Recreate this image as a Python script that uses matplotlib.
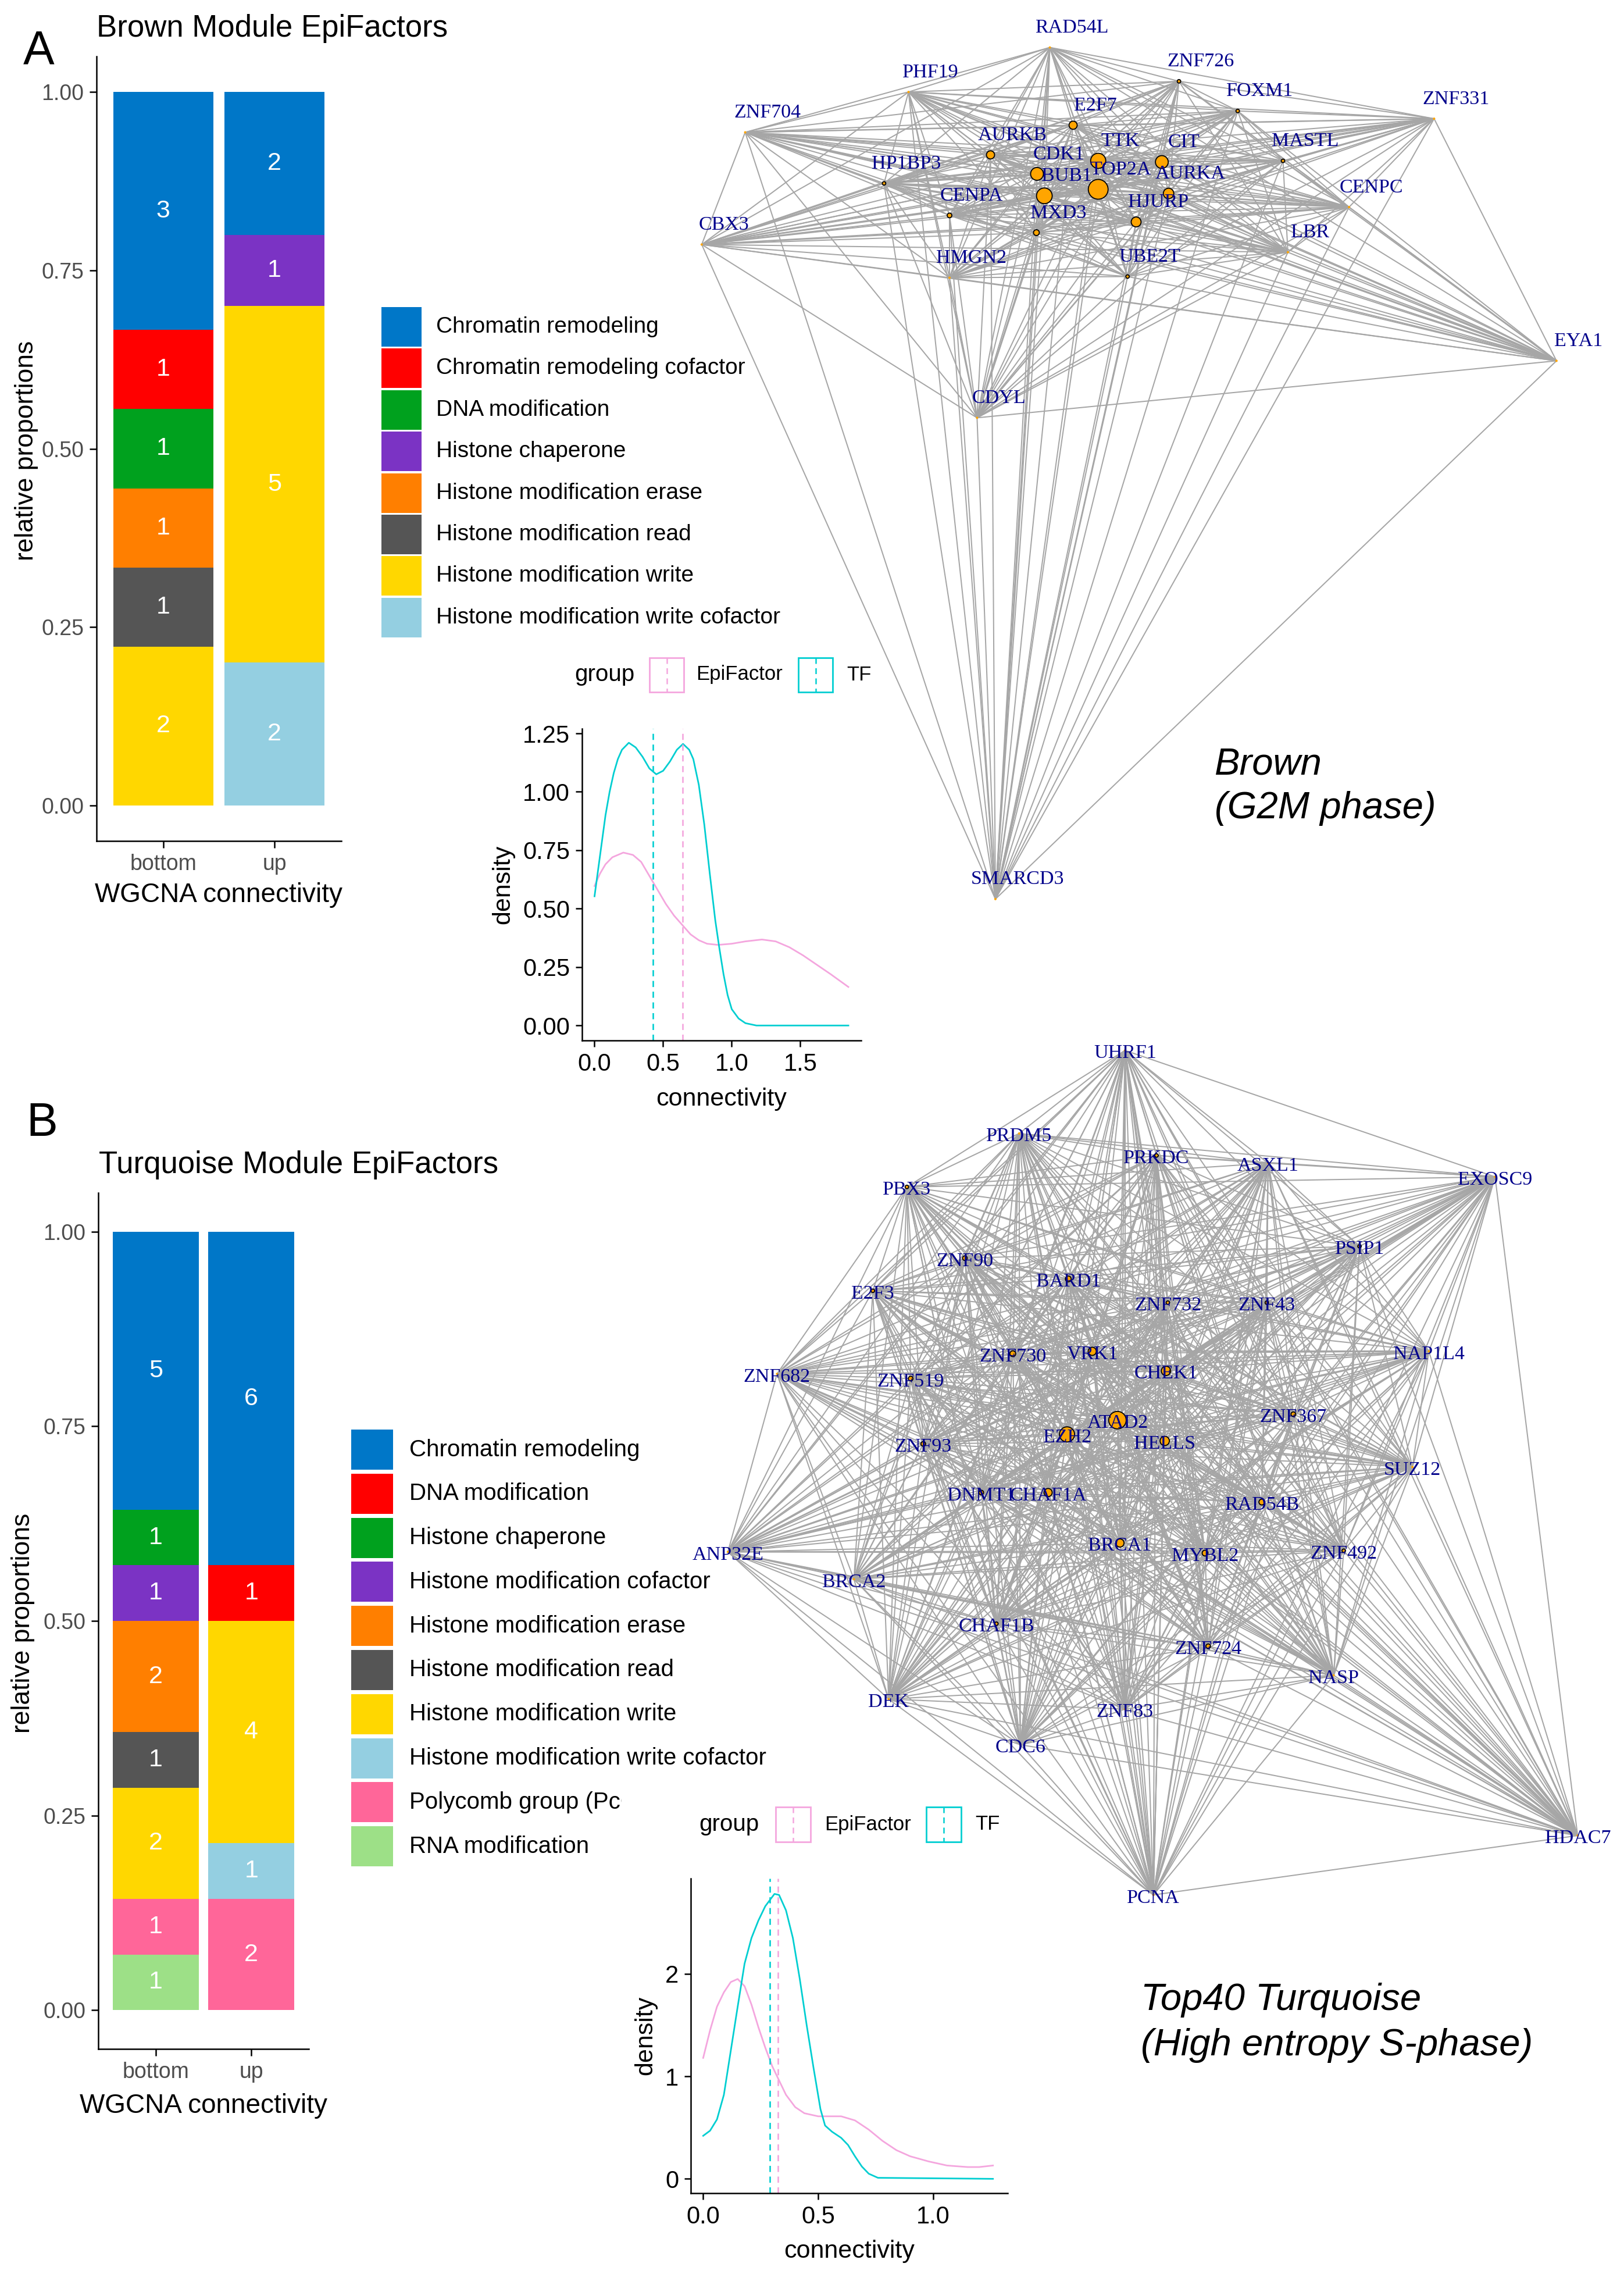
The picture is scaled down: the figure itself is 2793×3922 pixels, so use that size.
import numpy as np
import matplotlib
matplotlib.use("Agg")
import matplotlib.pyplot as plt
from matplotlib.patches import Rectangle
from matplotlib.collections import LineCollection
from matplotlib.transforms import Bbox, TransformedBbox
from itertools import combinations

plt.rcParams['font.family'] = ['Liberation Sans', 'DejaVu Sans']

W, H = 2793, 3922

# ---------------- data ----------------
cat_colors = ["#0077C8", "#FF0000", "#00A11E", "#7B33C4", "#FF7F00",
              "#555555", "#FFD700", "#94CFE1", "#FF6699", "#9DE087"]
groups = ["bottom", "up"]

brown_cats = ["Chromatin remodeling", "Chromatin remodeling cofactor", "DNA modification",
              "Histone chaperone", "Histone modification erase", "Histone modification read",
              "Histone modification write", "Histone modification write cofactor"]
brown_bottom = [3, 1, 1, 0, 1, 1, 2, 0]
brown_up = [2, 0, 0, 1, 0, 0, 5, 2]

turq_cats = ["Chromatin remodeling", "DNA modification", "Histone chaperone",
             "Histone modification cofactor", "Histone modification erase",
             "Histone modification read", "Histone modification write",
             "Histone modification write cofactor", "Polycomb group (PcG) protein",
             "RNA modification"]
turq_bottom = [5, 0, 1, 1, 2, 1, 2, 0, 1, 1]
turq_up = [6, 1, 0, 0, 0, 0, 4, 1, 2, 0]

# density curves
brown_tf_x = [0.00, 0.02, 0.05, 0.08, 0.11, 0.14, 0.17, 0.20, 0.25, 0.30, 0.35, 0.40, 0.45,
              0.50, 0.55, 0.60, 0.645, 0.69, 0.72, 0.76, 0.80, 0.84, 0.88, 0.91, 0.94, 0.97,
              1.00, 1.05, 1.10, 1.18, 1.85]
brown_tf_y = [0.553, 0.64, 0.77, 0.90, 1.00, 1.08, 1.14, 1.18, 1.21, 1.19, 1.15, 1.10, 1.075,
              1.09, 1.13, 1.18, 1.205, 1.18, 1.14, 1.03, 0.86, 0.65, 0.45, 0.33, 0.22, 0.13,
              0.07, 0.03, 0.01, 0.00, 0.00]
brown_epi_x = [0.00, 0.04, 0.08, 0.13, 0.21, 0.28, 0.34, 0.40, 0.46, 0.52, 0.58, 0.64, 0.70,
               0.76, 0.82, 0.90, 1.00, 1.10, 1.22, 1.32, 1.42, 1.52, 1.62, 1.72, 1.85]
brown_epi_y = [0.597, 0.65, 0.69, 0.72, 0.74, 0.73, 0.70, 0.64, 0.58, 0.52, 0.47, 0.43, 0.39,
               0.365, 0.35, 0.345, 0.35, 0.36, 0.368, 0.36, 0.335, 0.30, 0.26, 0.22, 0.165]
brown_mean_tf, brown_mean_epi = 0.426, 0.643

turq_tf_x = [0.00, 0.03, 0.06, 0.09, 0.12, 0.15, 0.18, 0.21, 0.24, 0.27, 0.31, 0.33, 0.36,
             0.39, 0.42, 0.45, 0.48, 0.51, 0.53, 0.56, 0.60, 0.63, 0.66, 0.69, 0.72, 0.76, 1.26]
turq_tf_y = [0.42, 0.47, 0.58, 0.82, 1.25, 1.68, 2.10, 2.35, 2.52, 2.66, 2.78, 2.77, 2.62,
             2.35, 1.95, 1.50, 1.08, 0.68, 0.52, 0.46, 0.40, 0.33, 0.22, 0.12, 0.05, 0.01, 0.00]
turq_epi_x = [0.00, 0.03, 0.06, 0.09, 0.12, 0.15, 0.18, 0.21, 0.24, 0.27, 0.30, 0.33, 0.36,
              0.40, 0.44, 0.50, 0.60, 0.66, 0.72, 0.78, 0.84, 0.90, 0.98, 1.06, 1.15, 1.20, 1.26]
turq_epi_y = [1.18, 1.45, 1.68, 1.82, 1.92, 1.95, 1.88, 1.70, 1.48, 1.28, 1.10, 0.96, 0.82,
              0.70, 0.64, 0.61, 0.61, 0.57, 0.48, 0.37, 0.28, 0.22, 0.17, 0.13, 0.115, 0.115, 0.13]
turq_mean_tf, turq_mean_epi = 0.290, 0.326

# network layouts (layout units) and vertex radius (px)
brown_genes = ["RAD54L", "ZNF726", "FOXM1", "ZNF331", "PHF19", "ZNF704", "E2F7", "AURKB",
               "HP1BP3", "CDK1", "TTK", "CIT", "MASTL", "BUB1", "TOP2A", "AURKA", "CENPA",
               "HJURP", "MXD3", "CENPC", "LBR", "CBX3", "HMGN2", "UBE2T", "CDYL", "EYA1",
               "SMARCD3"]
brown_lx = [623, 834, 930, 1251, 392, 125, 661, 526, 352, 602, 702, 806, 1004, 614, 702, 817,
            459, 764, 601, 1112, 1012, 54, 459, 750, 504, 1451, 534]
brown_ly = [80, 137, 187, 200, 155, 223, 211, 261, 309, 293, 271, 273, 271, 330, 319, 326,
            363, 374, 392, 349, 425, 412, 468, 466, 704, 608, 1515]
brown_rad = [2, 3, 3, 2, 2, 2, 7, 7, 3, 11, 13, 11, 3, 13.5, 17, 9, 4, 8.5, 5, 2, 2, 2, 2, 3,
             2, 2, 2]

turq_genes = ["UHRF1", "PRDM5", "PRKDC", "ASXL1", "EXOSC9", "PBX3", "PSIP1", "ZNF90", "BARD1",
              "E2F3", "ZNF732", "ZNF43", "NAP1L4", "ZNF730", "VRK1", "ZNF682", "ZNF519",
              "CHEK1", "ZNF367", "ATAD2", "EZH2", "HELLS", "ZNF93", "SUZ12", "DNMT1", "CHAF1A",
              "RAD54B", "ANP32E", "BRCA1", "MYBL2", "ZNF492", "BRCA2", "CHAF1B", "ZNF724",
              "NASP", "DEK", "ZNF83", "CDC6", "HDAC7", "PCNA"]
turq_lx = [770, 602, 820, 997, 1357, 424, 1142, 516, 680, 370, 838, 995, 1252, 592, 718, 218,
           430, 835, 1037, 758, 678, 833, 450, 1226, 542, 648, 987, 140, 762, 897, 1117, 340,
           566, 902, 1101, 395, 770, 604, 1488, 815]
turq_ly = [55, 195, 232, 245, 268, 285, 385, 405, 440, 460, 480, 480, 562, 566, 562, 600, 608,
           595, 668, 678, 702, 713, 718, 757, 800, 800, 816, 900, 885, 902, 898, 946, 1021,
           1059, 1108, 1148, 1165, 1225, 1378, 1478]
turq_rad = [2, 2, 3, 2, 2, 3, 3, 4, 5, 3, 3, 3, 2, 5, 7, 2, 4, 8, 4, 15, 13, 8, 4, 2, 4, 7, 5,
            2, 7, 5, 3, 2, 3, 4, 2, 2, 2, 2, 2, 2]

pink = "#F4A6DE"
cyan = "#00CED1"
gray_txt = "#4D4D4D"

fig = plt.figure(figsize=(W / 100, H / 100), dpi=100)


def px_axes(x0, y0, x1, y1, **kw):
    return fig.add_axes([x0 / W, 1 - y1 / H, (x1 - x0) / W, (y1 - y0) / H], **kw)


# ---------------- networks (drawn first, transparent) ----------------
def draw_net(box, genes, lx, ly, rad, ldx, ldy):
    ax = px_axes(*box)
    ax.set_xlim(0, 1568)
    ax.set_ylim(1568, 0)
    ax.axis("off")
    ax.patch.set_alpha(0)
    pts = np.column_stack([lx, ly]).astype(float)
    segs = [[pts[i], pts[j]] for i, j in combinations(range(len(genes)), 2)]
    ax.add_collection(LineCollection(segs, colors="#A6A6A6", linewidths=1.45, zorder=1))
    rad = np.array(rad, dtype=float)
    s = (2 * rad / 1.389) ** 2
    big = rad >= 3
    ax.scatter(pts[~big, 0], pts[~big, 1], s=s[~big], c="orange", linewidths=0, zorder=2)
    ax.scatter(pts[big, 0], pts[big, 1], s=s[big], c="orange", edgecolors="black",
               linewidths=1.3, zorder=3)
    for g, x, y in zip(genes, pts[:, 0], pts[:, 1]):
        ax.text(x + ldx, y + ldy, g, ha="center", va="center", fontsize=24.5,
                family="Liberation Serif", color="#00008B", zorder=4)
    return ax


draw_net((1150, 0, 2800, 1600), brown_genes, brown_lx, brown_ly, brown_rad, 36, -33)
draw_net((1100, 1750, 2800, 3350), turq_genes, turq_lx, turq_ly, turq_rad, 0, 5)


# ---------------- stacked bars ----------------
def stacked(box, cats, counts_bottom, counts_up):
    ax = px_axes(*box)
    for gi, counts in enumerate([counts_bottom, counts_up]):
        total = sum(counts)
        base = 0.0
        for ci in reversed(range(len(cats))):
            c = counts[ci]
            if c == 0:
                continue
            h = c / total
            ax.bar(gi + 1, h, bottom=base, width=0.9, color=cat_colors[ci], linewidth=0)
            ax.text(gi + 1, base + h / 2, str(c), color="white", ha="center", va="center",
                    fontsize=31)
            base += h
    ax.set_xlim(0.4, 2.6)
    ax.set_ylim(-0.05, 1.05)
    ax.set_xticks([1, 2])
    ax.set_xticklabels(groups)
    ax.set_yticks([0, 0.25, 0.5, 0.75, 1.0])
    ax.set_yticklabels(["0.00", "0.25", "0.50", "0.75", "1.00"])
    for sp in ["top", "right"]:
        ax.spines[sp].set_visible(False)
    for sp in ["left", "bottom"]:
        ax.spines[sp].set_linewidth(1.8)
    ax.tick_params(length=8.5, width=1.8, labelsize=27, labelcolor=gray_txt, pad=7)
    ax.patch.set_alpha(0)
    return ax


stacked((166, 97, 587, 1446), brown_cats, brown_bottom, brown_up)
stacked((169, 2051, 531, 3523), turq_cats, turq_bottom, turq_up)


# ---------------- density insets ----------------
def density(box, tfx, tfy, epx, epy, m_tf, m_epi, xlim, ylim, xt, xtl, yt, ytl):
    ax = px_axes(*box)
    ax.plot(epx, epy, color=pink, lw=2.0)
    ax.plot(tfx, tfy, color=cyan, lw=2.0)
    ax.axvline(m_tf, color=cyan, lw=1.9, ls=(0, (4, 3)))
    ax.axvline(m_epi, color=pink, lw=1.9, ls=(0, (4, 3)))
    ax.set_xlim(*xlim)
    ax.set_ylim(*ylim)
    ax.set_xticks(xt)
    ax.set_xticklabels(xtl)
    ax.set_yticks(yt)
    ax.set_yticklabels(ytl)
    for sp in ["top", "right"]:
        ax.spines[sp].set_visible(False)
    for sp in ["left", "bottom"]:
        ax.spines[sp].set_linewidth(1.8)
    ax.tick_params(length=8, width=1.8, labelsize=30, labelcolor="black", pad=7)
    ax.patch.set_alpha(0)
    return ax


density((1001, 1253, 1481, 1789), brown_tf_x, brown_tf_y, brown_epi_x, brown_epi_y,
        brown_mean_tf, brown_mean_epi, (-0.091, 1.943), (-0.064, 1.27),
        [0, 0.5, 1.0, 1.5], ["0.0", "0.5", "1.0", "1.5"],
        [0, 0.25, 0.5, 0.75, 1.0, 1.25], ["0.00", "0.25", "0.50", "0.75", "1.00", "1.25"])
density((1188, 3230, 1733, 3771), turq_tf_x, turq_tf_y, turq_epi_x, turq_epi_y,
        turq_mean_tf, turq_mean_epi, (-0.054, 1.324), (-0.14, 2.93),
        [0, 0.5, 1.0], ["0.0", "0.5", "1.0"], [0, 1, 2], ["0", "1", "2"])

# ---------------- overlay: labels, titles, legends ----------------
ov = fig.add_axes([0, 0, 1, 1])
ov.set_xlim(0, W)
ov.set_ylim(H, 0)
ov.axis("off")
ov.patch.set_alpha(0)

ov.text(40, 109, "A", fontsize=58, va="baseline", ha="left")
ov.text(45, 1953, "B", fontsize=58, va="baseline", ha="left")
ov.text(166, 49, "Brown Module EpiFactors", fontsize=38, va="center", ha="left")
ov.text(170, 2003, "Turquoise Module EpiFactors", fontsize=38, va="center", ha="left")

# bar chart axis titles
ov.text(46, 775, "relative proportions", fontsize=32, rotation=90, ha="center", va="center")
ov.text(376, 1539, "WGCNA connectivity", fontsize=33, ha="center", va="center")
ov.text(40, 2791, "relative proportions", fontsize=32, rotation=90, ha="center", va="center")
ov.text(350, 3621, "WGCNA connectivity", fontsize=33, ha="center", va="center")

# density axis titles
ov.text(865, 1521, "density", fontsize=31, rotation=90, ha="center", va="center")
ov.text(1241, 1890, "connectivity", fontsize=31, ha="center", va="center")
ov.text(1110, 3500, "density", fontsize=31, rotation=90, ha="center", va="center")
ov.text(1461, 3871, "connectivity", fontsize=31, ha="center", va="center")

# italic module notes
ov.text(2089, 1331, "Brown", fontsize=47, style="italic", va="baseline", ha="left")
ov.text(2089, 1407, "(G2M phase)", fontsize=47, style="italic", va="baseline", ha="left")
ov.text(1962, 3456, "Top40 Turquoise", fontsize=47, style="italic", va="baseline", ha="left")
ov.text(1962, 3534, "(High entropy S-phase)", fontsize=47, style="italic", va="baseline",
        ha="left")


def fill_legend(cats, kx0, kx1, top, step, kh, tx, fs, clip_rows=(), clip_x=None):
    for i, cat in enumerate(cats):
        y0 = top + i * step
        ov.add_patch(Rectangle((kx0, y0), kx1 - kx0, kh, facecolor=cat_colors[i],
                               edgecolor="none"))
        clipped = i in clip_rows
        t = ov.text(tx, y0 + kh / 2, cat, fontsize=fs, va="center", ha="left",
                    clip_on=clipped)
        if clipped:
            t.set_clip_box(TransformedBbox(Bbox([[0, 0], [clip_x, H]]), ov.transData))


fill_legend(brown_cats, 656, 725, 528, 71.4, 68, 750, 28)
# the density panel of B hides the end of the "Polycomb" entry
fill_legend(turq_cats, 604, 676, 2458, 75.8, 69, 704, 29, clip_rows=(8,), clip_x=1069)


def group_legend(gx, cy, k1, t1, k2, t2, ks):
    ov.text(gx, cy, "group", fontsize=29, va="center", ha="left")
    for kx, tx, col, lab in [(k1, t1, pink, "EpiFactor"), (k2, t2, cyan, "TF")]:
        ov.add_patch(Rectangle((kx, cy - ks / 2), ks, ks, facecolor="white", edgecolor=col,
                               lw=2.0))
        ov.plot([kx + ks / 2, kx + ks / 2], [cy - ks / 2, cy + ks / 2], color=col, lw=1.8,
                ls=(0, (4, 3)))
        ov.text(tx, cy, lab, fontsize=25, va="center", ha="left")


group_legend(988, 1160, 1117, 1197, 1373, 1456, 59)
group_legend(1202, 3137, 1334, 1418, 1593, 1677, 60)

fig.savefig("out.png", dpi=100)
